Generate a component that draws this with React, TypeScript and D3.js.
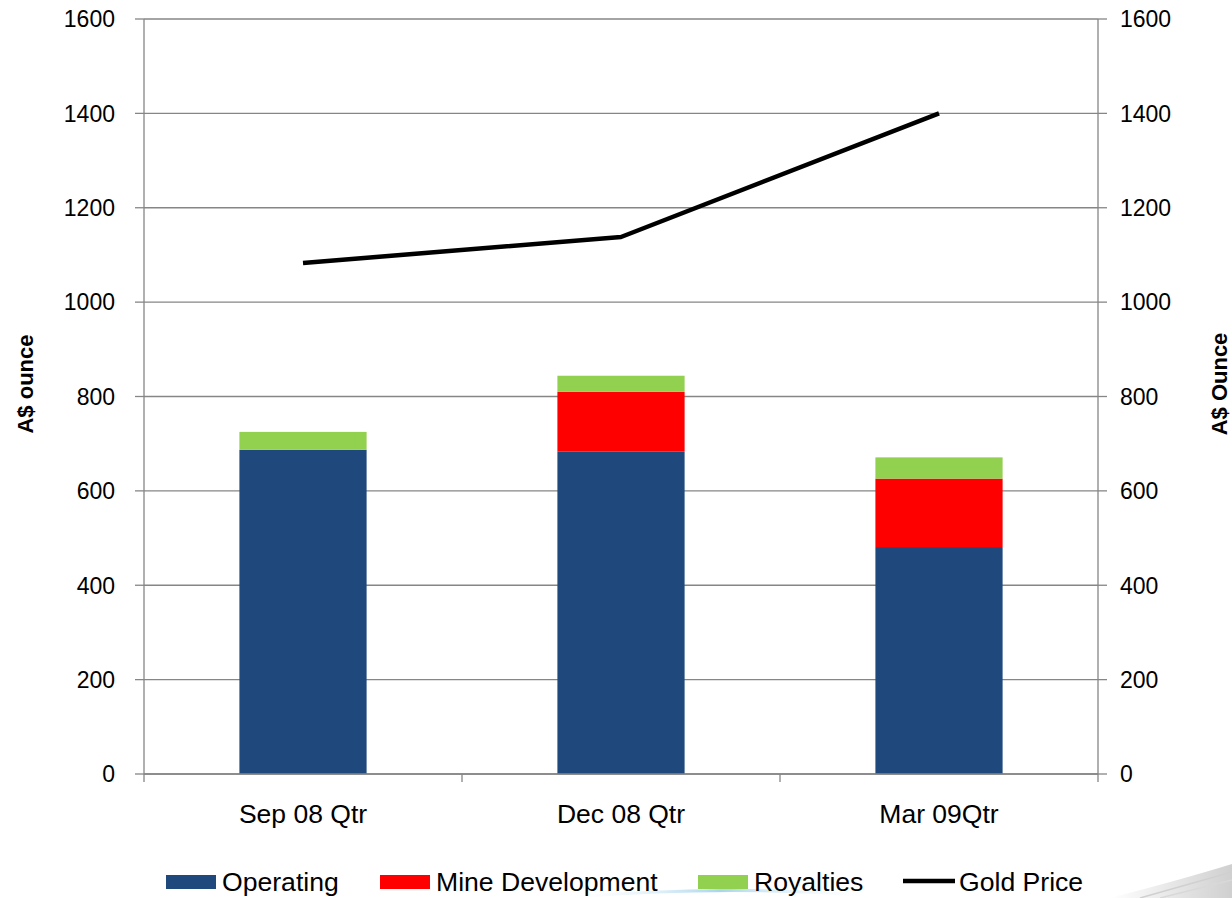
import React from "react";
import * as d3 from "d3";

const categories = ["Sep 08 Qtr", "Dec 08 Qtr", "Mar 09Qtr"];
const operating = [687, 683, 481];
const mineDevelopment = [0, 127, 145];
const royalties = [38, 34, 45];
const goldPrice = [1083, 1138, 1400];
const yTicks = [0, 200, 400, 600, 800, 1000, 1200, 1400, 1600];
const seriesNames = ["Operating", "Mine Development", "Royalties", "Gold Price"];
const colors = ["#1F497D", "#FF0000", "#92D050", "#000000"];

const W = 1232, H = 898;
const L = 144, R = 1098, T = 19, B = 774;
const FONT = "'Liberation Sans', Arial, sans-serif";

export default function App() {
  const x = d3.scaleBand<string>().domain(categories).range([L, R]).paddingInner(0.6).paddingOuter(0.3);
  const xc = d3.scaleBand<string>().domain(categories).range([L, R]);
  const y = d3.scaleLinear().domain([0, 1600]).range([B, T]);
  const stacks = [operating, mineDevelopment, royalties];
  const line = d3.line<number>().x((_, i) => (xc(categories[i]) as number) + xc.bandwidth() / 2).y((d) => y(d));
  const legendX = [166, 380, 698, 903];

  return (
    <svg width={W} height={H} style={{ position: "absolute", left: 0, top: 0 }} fontFamily={FONT}>
      <rect width={W} height={H} fill="#fff" />
      <defs>
        <linearGradient id="sw" x1="0" x2="1" y1="0" y2="0">
          <stop offset="0" stopColor="#ffffff" />
          <stop offset="1" stopColor="#b0b0b0" />
        </linearGradient>
        <linearGradient id="bl" x1="0" x2="1">
          <stop offset="0" stopColor="#ffffff" stopOpacity="0" />
          <stop offset="0.5" stopColor="#a9d4ec" />
          <stop offset="1" stopColor="#ffffff" stopOpacity="0" />
        </linearGradient>
      </defs>
      <path d="M1110,898 Q1180,880 1232,864 L1232,898 Z" fill="url(#sw)" opacity={0.6} />
      <path d="M1140,898 Q1190,884 1232,872" stroke="#d0d0d0" strokeWidth={1.5} fill="none" />
      <path d="M1160,898 Q1200,888 1232,880" stroke="#d8d8d8" strokeWidth={1.5} fill="none" />
      <path d="M560,898 Q720,884 880,896" stroke="url(#bl)" strokeWidth={3} fill="none" />
      {yTicks.map((t) => (
        <line key={t} x1={L} x2={R} y1={y(t)} y2={y(t)} stroke="#868686" strokeWidth={1.3} />
      ))}
      {categories.map((c, i) => {
        let acc = 0;
        return stacks.map((s, k) => {
          const v = s[i];
          const y0 = acc;
          acc += v;
          if (v <= 0) return null;
          return (
            <rect key={c + k} x={x(c)} width={x.bandwidth()} y={y(acc)} height={y(y0) - y(acc)} fill={colors[k]} />
          );
        });
      })}
      <line x1={L} x2={L} y1={T} y2={B} stroke="#868686" strokeWidth={1.3} />
      <line x1={R} x2={R} y1={T} y2={B} stroke="#868686" strokeWidth={1.3} />
      <line x1={L} x2={R} y1={B} y2={B} stroke="#868686" strokeWidth={1.3} />
      {yTicks.map((t) => (
        <g key={"t" + t}>
          <line x1={L - 9} x2={L} y1={y(t)} y2={y(t)} stroke="#868686" strokeWidth={1.3} />
          <line x1={R} x2={R + 9} y1={y(t)} y2={y(t)} stroke="#868686" strokeWidth={1.3} />
          <text x={L - 29} y={y(t)} dy="0.36em" textAnchor="end" fontSize={23}>{t}</text>
          <text x={R + 22} y={y(t)} dy="0.36em" textAnchor="start" fontSize={23}>{t}</text>
        </g>
      ))}
      {[...categories.map((c) => xc(c) as number), R].map((xx, i) => (
        <line key={"xt" + i} x1={xx} x2={xx} y1={B} y2={B + 8} stroke="#868686" strokeWidth={1.3} />
      ))}
      {categories.map((c) => (
        <text key={"l" + c} x={(xc(c) as number) + xc.bandwidth() / 2} y={813} dy="0.36em" textAnchor="middle" fontSize={26.5}>{c}</text>
      ))}
      <path d={line(goldPrice) || ""} fill="none" stroke="#000" strokeWidth={4.5} strokeLinejoin="round" />
      <text transform={`translate(33,384) rotate(-90)`} textAnchor="middle" fontSize={22} fontWeight="bold">A$ ounce</text>
      <text transform={`translate(1227,384) rotate(-90)`} textAnchor="middle" fontSize={22} fontWeight="bold">A$ Ounce</text>
      {seriesNames.map((n, i) => (
        <g key={"lg" + n}>
          {i < 3 ? (
            <rect x={legendX[i]} y={875} width={50} height={14} fill={colors[i]} />
          ) : (
            <line x1={legendX[i]} x2={legendX[i] + 52} y1={881} y2={881} stroke="#000" strokeWidth={4.5} />
          )}
          <text x={legendX[i] + 56} y={881} dy="0.36em" fontSize={26.6}>{n}</text>
        </g>
      ))}
    </svg>
  );
}
